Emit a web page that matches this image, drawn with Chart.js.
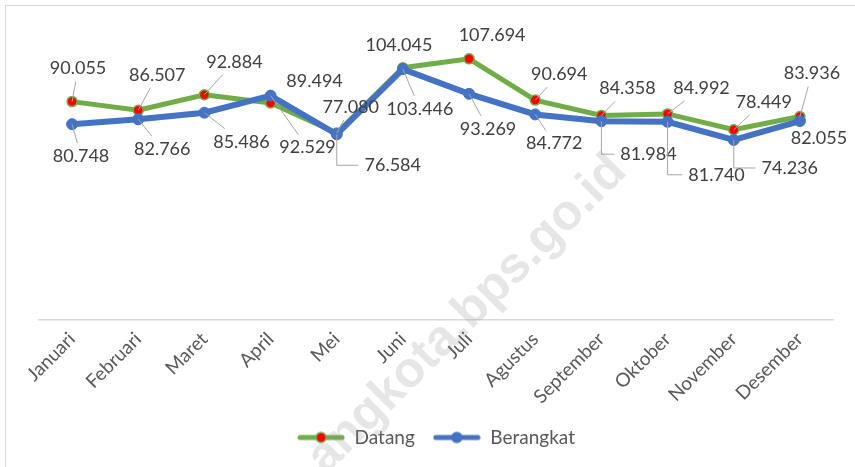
<!DOCTYPE html>
<html>
<head>
<meta charset="utf-8">
<script src="https://cdn.jsdelivr.net/npm/chart.js@4.4.1/dist/chart.umd.min.js"></script>
<style>
  html, body { margin: 0; padding: 0; background: #fff; }
  #wrap { width: 855px; height: 467px; position: relative; }
</style>
</head>
<body>
<div id="wrap"><canvas id="chart" width="855" height="467"></canvas></div>
<script>
// data
const months = ['Januari', 'Februari', 'Maret', 'April', 'Mei', 'Juni', 'Juli', 'Agustus', 'September', 'Oktober', 'November', 'Desember'];
const datang = [90.055, 86.507, 92.884, 89.494, 77.080, 104.045, 107.694, 90.694, 84.358, 84.992, 78.449, 83.936];
const berangkat = [80.748, 82.766, 85.486, 92.529, 76.584, 103.446, 93.269, 84.772, 81.984, 81.740, 74.236, 82.055];

// where each data label sits, relative to its point (px), and its leader line kind
const datangLabelPos = [[6, -33], [19, -35], [30, -33], [44, -22], [14, -26], [-4, -23], [23, -24], [24, -26], [26, -27], [34, -26], [30, -28], [12, -43]];
const datangLeader = ['line', 'line', 'line', 'none', 'line', 'none', 'none', 'line', 'line', 'line', 'line', 'line'];
const berangkatLabelPos = [[9, 32], [24, 30], [37, 29], [37, 52], [56, 31], [17, 40], [19, 35], [19, 29], [47, 33], [49, 53], [56, 28], [19, 17]];
const berangkatLeader = ['line', 'line', 'line', 'line', 'elbow', 'line', 'line', 'line', 'elbow', 'elbow', 'elbow', 'none'];

const GREEN = '#70AD47';
const BLUE = '#4472C4';
const FONT = 'Lato';

// legend sample: short line with a dot in the middle
function legendSample(lineColor, dotColor, dotBorder) {
  const c = document.createElement('canvas');
  c.width = 48; c.height = 14;
  const g = c.getContext('2d');
  g.strokeStyle = lineColor;
  g.lineWidth = 5;
  g.lineCap = 'round';
  g.beginPath(); g.moveTo(3, 7); g.lineTo(45, 7); g.stroke();
  g.fillStyle = dotColor;
  g.strokeStyle = dotBorder;
  g.lineWidth = 1.5;
  g.beginPath(); g.arc(24, 7, 5, 0, Math.PI * 2); g.fill(); g.stroke();
  return c;
}

const labelSetup = [
  { pos: datangLabelPos, leader: datangLeader },
  { pos: berangkatLabelPos, leader: berangkatLeader }
];

// draws value labels with Excel-like leader lines
const pointLabels = {
  id: 'pointLabels',
  afterDatasetsDraw(chart) {
    const ctx = chart.ctx;
    ctx.save();
    ctx.font = '18px ' + FONT;
    ctx.textAlign = 'center';
    ctx.textBaseline = 'middle';
    chart.data.datasets.forEach((ds, i) => {
      const meta = chart.getDatasetMeta(i);
      const setup = labelSetup[i];
      meta.data.forEach((pt, j) => {
        const text = ds.data[j].toFixed(3);
        const lx = pt.x + setup.pos[j][0];
        const ly = pt.y + setup.pos[j][1];
        const hw = ctx.measureText(text).width / 2 + 3;
        const hh = 13;
        ctx.strokeStyle = '#A6A6A6';
        ctx.lineWidth = 1;
        if (setup.leader[j] === 'line') {
          const dx = pt.x - lx, dy = pt.y - ly;
          const t = Math.min(Math.abs(hw / (dx || 1e-6)), Math.abs(hh / (dy || 1e-6)));
          ctx.beginPath();
          ctx.moveTo(pt.x, pt.y);
          ctx.lineTo(lx + dx * t, ly + dy * t);
          ctx.stroke();
        } else if (setup.leader[j] === 'elbow') {
          ctx.beginPath();
          ctx.moveTo(pt.x, pt.y);
          ctx.lineTo(pt.x, ly);
          ctx.lineTo(lx - hw - 3, ly);
          ctx.stroke();
        }
        ctx.fillStyle = '#404040';
        ctx.fillText(text, lx, ly);
      });
    });
    ctx.restore();
  },
  afterDraw(chart) {
    const ctx = chart.ctx;
    ctx.save();
    // outer chart frame
    ctx.strokeStyle = '#D9D9D9';
    ctx.lineWidth = 1;
    ctx.strokeRect(5.5, 5.5, 900, 500);
    // faint watermark
    ctx.translate(316, 466);
    ctx.rotate(-Math.PI / 4);
    ctx.font = 'bold 50px "Liberation Sans"';
    ctx.textAlign = 'left';
    ctx.textBaseline = 'middle';
    ctx.fillStyle = 'rgba(150,150,150,0.24)';
    ctx.fillText('angkota.bps.go.id', 0, 0);
    ctx.restore();
  }
};

const greenSample = legendSample(GREEN, '#FF0000', GREEN);
const blueSample = legendSample(BLUE, BLUE, BLUE);

new Chart(document.getElementById('chart'), {
  type: 'line',
  data: {
    labels: months,
    datasets: [
      {
        label: 'Datang',
        data: datang,
        borderColor: GREEN,
        borderWidth: 5,
        pointRadius: 5,
        pointBackgroundColor: '#FF0000',
        pointBorderColor: GREEN,
        pointBorderWidth: 1.5,
        tension: 0,
        order: 2
      },
      {
        label: 'Berangkat',
        data: berangkat,
        borderColor: BLUE,
        borderWidth: 6,
        pointRadius: 5.5,
        pointBackgroundColor: BLUE,
        pointBorderColor: BLUE,
        pointBorderWidth: 1,
        tension: 0,
        order: 1
      }
    ]
  },
  options: {
    responsive: false,
    animation: false,
    layout: { padding: { left: 39, right: 22, top: 29, bottom: 10 } },
    scales: {
      x: {
        offset: true,
        grid: { display: false, drawTicks: false },
        border: { color: '#D9D9D9', width: 1.5 },
        ticks: {
          color: '#595959',
          font: { family: FONT, size: 19 },
          minRotation: 45,
          maxRotation: 45,
          padding: 8
        },
        afterFit(scale) { scale.height = 90; }
      },
      y: { display: false, min: 0, max: 120 }
    },
    plugins: {
      legend: {
        position: 'bottom',
        labels: {
          color: '#595959',
          font: { family: FONT, size: 19 },
          usePointStyle: true,
          pointStyleWidth: 48,
          padding: 18,
          sort: (a, b) => a.datasetIndex - b.datasetIndex,
          generateLabels(chart) {
            const items = Chart.defaults.plugins.legend.labels.generateLabels(chart);
            items.forEach(it => { it.pointStyle = it.datasetIndex === 0 ? greenSample : blueSample; });
            return items;
          }
        }
      },
      tooltip: { enabled: false }
    }
  },
  plugins: [pointLabels]
});
</script>
</body>
</html>
